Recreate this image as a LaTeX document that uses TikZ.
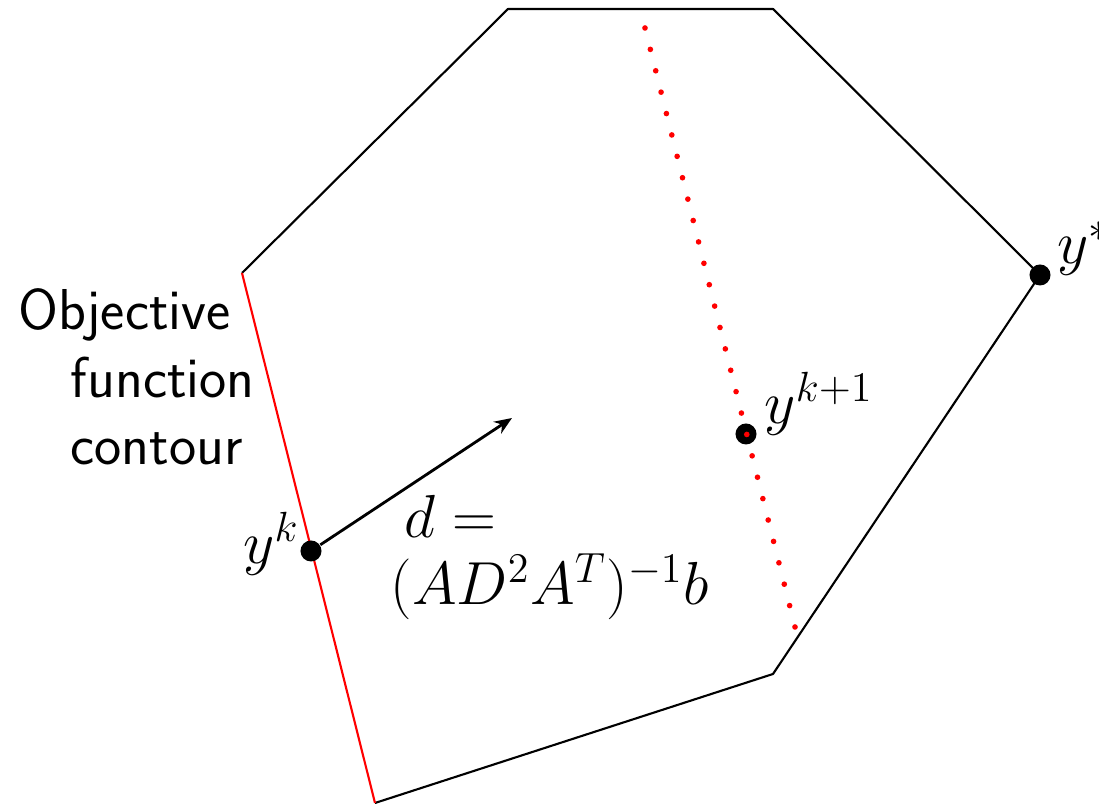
\documentclass[tikz,border=0pt]{standalone}
\usepackage{amsmath}
\usetikzlibrary{positioning,arrows.meta,calc}

\begin{document}
\begin{tikzpicture}[x=0.01cm,y=-0.01cm,
  edge/.style={line width=0.6pt,line join=round},
  contour/.style={red,line width=0.6pt},
  pt/.style={circle,fill=black,inner sep=0pt,minimum size=2.1mm},
  lbl/.style={font=\LARGE,inner sep=0pt},
  vec/.style={-{Stealth[length=5pt,width=4pt]},line width=0.8pt}]
\useasboundingbox (0,0) rectangle (1099,804);
\coordinate (a) at (242,273);
\coordinate (b) at (508,9);
\coordinate (c) at (773,9);
\coordinate (e) at (1040,275);
\coordinate (f) at (773,674);
\coordinate (g) at (375,803);
\draw[edge] (a) -- (b) -- (c) -- (e) -- (f) -- (g);
\draw[contour] (g) -- (a);
\node[pt] (yk) at (311,551) {};
\node[pt] (ynext) at (746,434) {};
\node[pt] (ystar) at (e) {};
\coordinate (dtop) at (645,28);
\coordinate (dbot) at (795,627);
\foreach \i in {0,...,28}
  \fill[red] ($(dtop)!\i/28!(dbot)$) circle (0.8pt);
\coordinate (dir) at (512,418);
\draw[vec] (yk) -- (dir);
\node[lbl,anchor=base east] (ykl) at (300,564) {$y^k$};
\node[lbl,anchor=base west] (ynextl) at (764,424) {$y^{k+1}$};
\node[lbl,anchor=base west] (ystarl) at (1057,264) {$y^*$};
\node[inner sep=0pt,align=left,anchor=base west,
  font=\fontsize{17.28}{19.1}\selectfont] (dl) at (390,605)
  {\hspace*{0.14cm}$d=$\\$(AD^2A^T)^{-1}b$};
\node[inner sep=0pt,align=left,anchor=base west,
  font=\fontsize{16.4}{19.3}\selectfont\sffamily] (obj) at (70,465)
  {\hspace*{-0.52cm}Objective\\function\\contour};
\end{tikzpicture}
\end{document}
